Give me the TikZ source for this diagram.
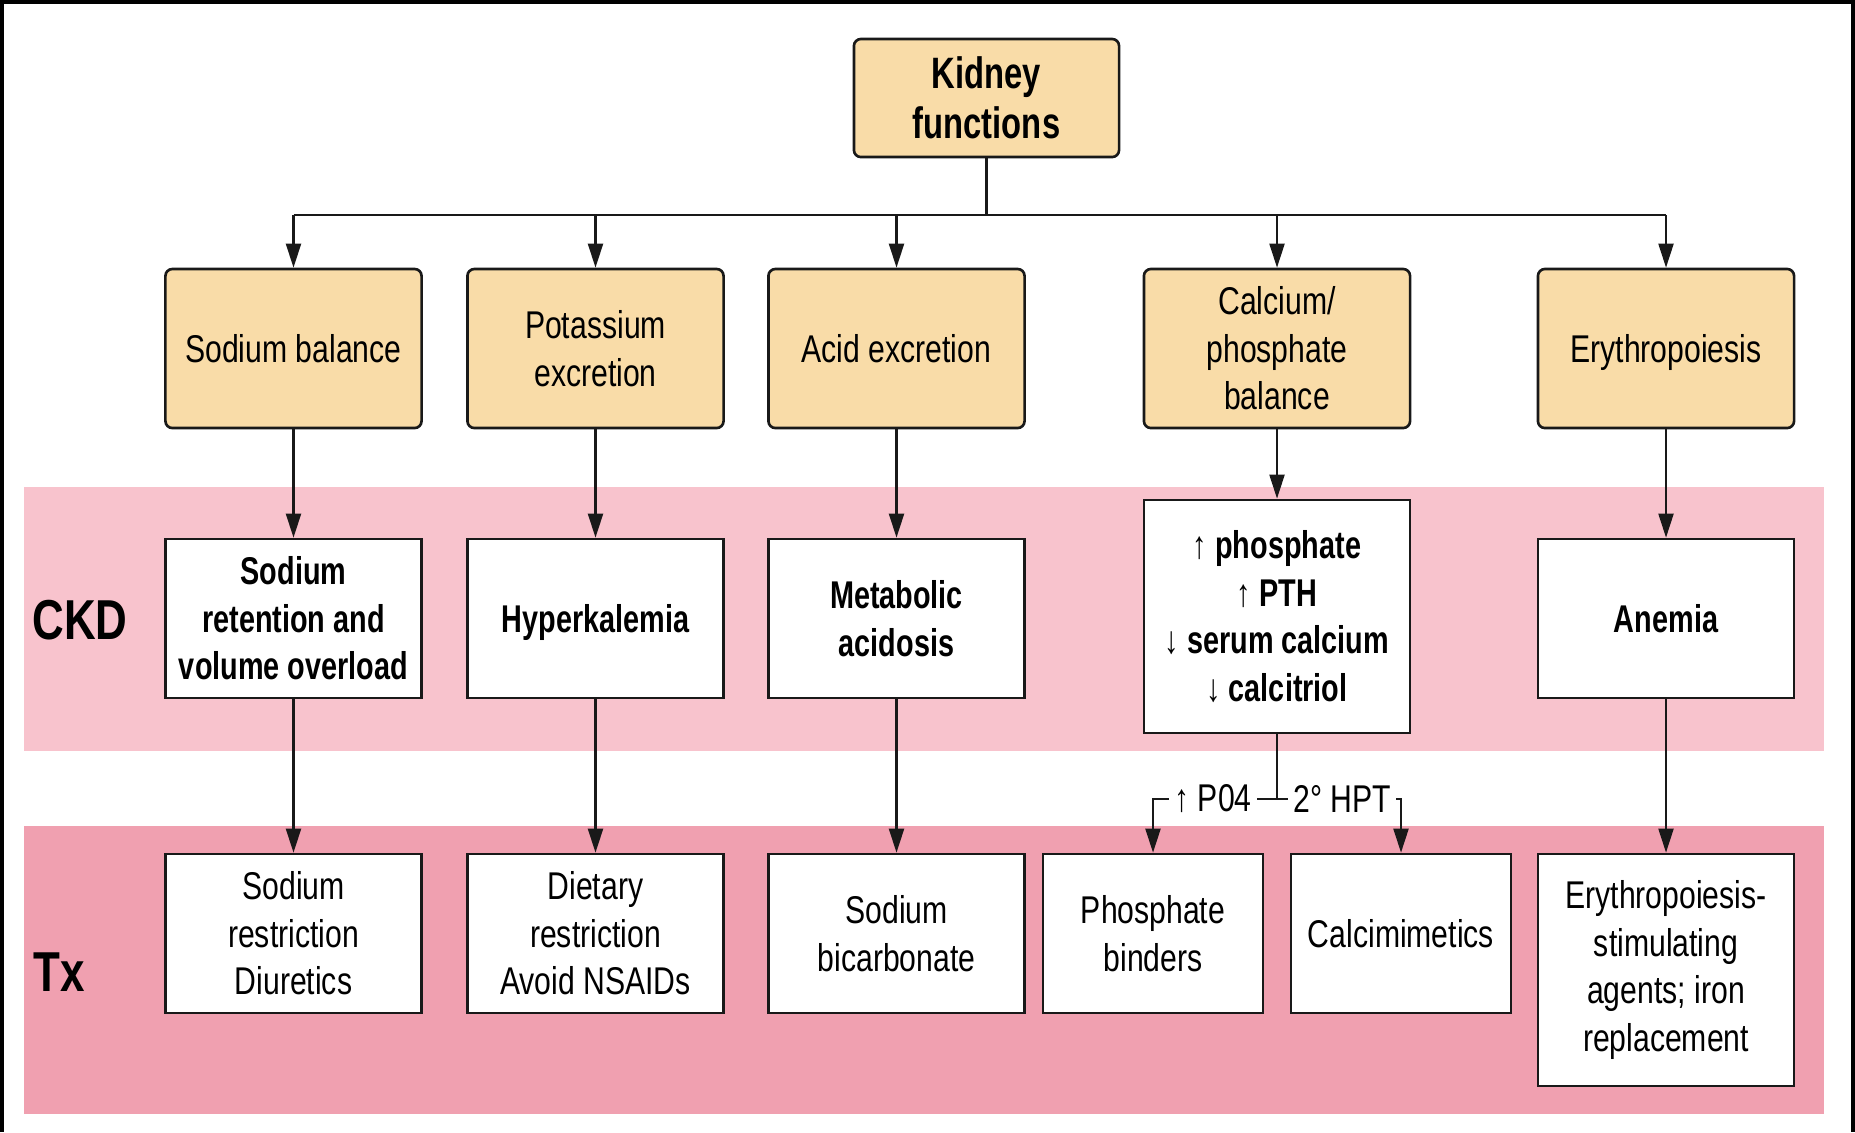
\documentclass[tikz,border=0pt]{standalone}
\usepackage{fontspec}
\setmainfont{Liberation Sans}[FakeStretch=0.78]
\newfontfamily\narrowbold{Liberation Sans}[FakeStretch=0.745]
\usetikzlibrary{arrows.meta}
\definecolor{tanfill}{HTML}{F9DCA8}
\definecolor{ckdband}{HTML}{F8C3CD}
\definecolor{txband}{HTML}{F0A0B0}
\begin{document}
\begin{tikzpicture}[x=0.01cm,y=-0.01cm,
  txt/.style={font=\fontsize{11pt}{13.5pt}\selectfont, align=center, inner sep=2pt},
  tanbox/.style={txt, draw=black!90, line width=0.75pt, fill=tanfill, rounded corners=0.07cm,
                 minimum width=2.56cm, minimum height=1.59cm},
  ckdbox/.style={txt, font=\fontsize{11pt}{13.5pt}\selectfont\narrowbold\bfseries, draw=black!90, line width=0.75pt,
                 fill=white, minimum width=2.56cm, minimum height=1.59cm},
  txbox/.style={txt, draw=black!90, line width=0.75pt, fill=white,
                minimum width=2.56cm, minimum height=1.59cm},
  link/.style={draw=black!90, line width=0.6pt},
  arr/.style={link, -{Triangle[width=0.15cm,length=0.24cm]}},
  bandlabel/.style={font=\fontsize{16pt}{18pt}\selectfont\bfseries, inner sep=0pt},
  junclabel/.style={txt, fill=white, inner sep=1.5pt}
]
\useasboundingbox (0,0) rectangle (1855,1132);

% outer frame (open at the bottom)
\draw[line width=1pt] (2,1132) -- (2,2) -- (1853,2) -- (1853,1132);

% coloured bands
\fill[ckdband] (24,487) rectangle (1824,751);
\fill[txband] (24,826) rectangle (1824,1114);
\node[bandlabel] (ckdlab) at (80,620) {CKD};
\node[bandlabel] (txlab) at (59,972) {Tx};

% root
\node[tanbox, font=\fontsize{12.5pt}{14.2pt}\selectfont\narrowbold\bfseries,
      minimum width=2.65cm, minimum height=1.18cm] (kf) at (986.5,98) {Kidney\\functions};

% kidney functions
\node[tanbox] (sb) at (293.5,348.5) {Sodium balance};
\node[tanbox] (pk) at (595.5,348.5) {Potassium\\excretion};
\node[tanbox] (ac) at (896.5,348.5) {Acid excretion};
\node[tanbox, minimum width=2.66cm] (ca) at (1277,348.5) {Calcium/\\phosphate\\balance};
\node[tanbox, text depth=0pt] (er) at (1666,348.5) {Erythropoiesis};

% CKD consequences
\node[ckdbox] (sbC) at (293.5,618.5) {Sodium\\retention and\\volume overload};
\node[ckdbox, text depth=0pt] (pkC) at (595.5,618.5) {Hyperkalemia};
\node[ckdbox] (acC) at (896.5,618.5) {Metabolic\\acidosis};
\node[ckdbox, minimum width=2.66cm, minimum height=2.33cm] (caC) at (1277,616.5)
  {↑ phosphate\\↑ PTH\\↓ serum calcium\\↓ calcitriol};
\node[ckdbox] (erC) at (1666,618.5) {Anemia};

% treatments
\node[txbox] (sbT) at (293.5,933.5) {Sodium\\restriction\\Diuretics};
\node[txbox] (pkT) at (595.5,933.5) {Dietary\\restriction\\Avoid NSAIDs};
\node[txbox] (acT) at (896.5,933.5) {Sodium\\bicarbonate};
\node[txbox, minimum width=2.2cm] (phT) at (1153,933.5) {Phosphate\\binders};
\node[txbox, minimum width=2.2cm] (cmT) at (1401,933.5) {Calcimimetics};
\node[txbox, minimum height=2.32cm] (erT) at (1666,970) {Erythropoiesis-\\stimulating\\agents; iron\\replacement};

% bus from the root
\coordinate (bus) at (986.5,215);
\draw[link] (kf.south) -- (bus);
\draw[link] (sb |- bus) -- (er |- bus);
\foreach \n in {sb,pk,ac,ca,er}
  \draw[arr] (\n |- bus) -- (\n.north);

% function -> CKD -> treatment
\foreach \n in {sb,pk,ac,ca,er}
  \draw[arr] (\n.south) -- (\n C.north);
\foreach \n in {sb,pk,ac,er}
  \draw[arr] (\n C.south) -- (\n T.north);

% calcium/phosphate split
\coordinate (jn) at (1277,799);
\draw[link] (caC.south) -- (jn);
\draw[arr] (jn) -| (phT.north);
\draw[arr] (jn) -| (cmT.north);
\node[junclabel] (po4) at (1213,799) {↑ P04};
\node[junclabel] (hpt) at (1342,799) {2° HPT};
\end{tikzpicture}
\end{document}
